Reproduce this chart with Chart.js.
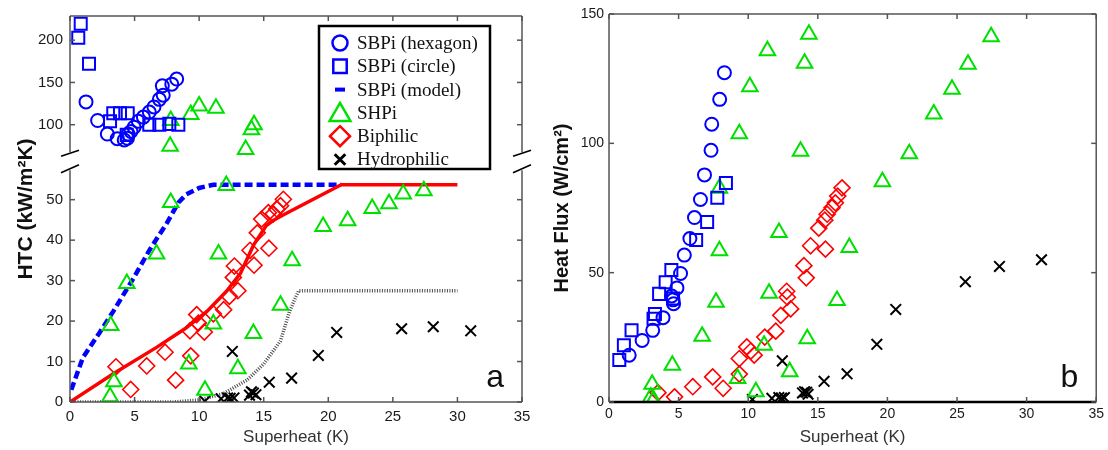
<!DOCTYPE html>
<html>
<head>
<meta charset="utf-8">
<script src="https://cdn.jsdelivr.net/npm/chart.js@4.4.0/dist/chart.umd.min.js"></script>
<style>
html, body { margin: 0; padding: 0; background: #fff; }
#wrap { position: relative; width: 1108px; height: 450px; }
#htc { position: absolute; left: 0; top: 0; }
#flux { position: absolute; left: 540px; top: 0; }
</style>
</head>
<body>
<div id="wrap">
  <canvas id="htc" width="540" height="450"></canvas>
  <canvas id="flux" width="568" height="450"></canvas>
</div>
<script>
// ---- tick labels ----
const xTicks = [0, 5, 10, 15, 20, 25, 30, 35];
const htcLowTicks = [0, 10, 20, 30, 40, 50];
const htcHighTicks = [100, 150, 200];
const fluxTicks = [0, 50, 100, 150];
const legendLabels = ['SBPi (hexagon)', 'SBPi (circle)', 'SBPi (model)', 'SHPi', 'Biphilic', 'Hydrophilic'];

// ---- panel a: HTC vs superheat [K, kW/m2K] ----
const hexHTC = [[1.24,127],[2.14,105],[2.89,89],[3.66,83.5],[4.2,82],[4.45,84],[4.5,89],[4.72,92],[4.96,97],[5.29,104],[5.68,109],[6.14,115],[6.5,121],[6.92,130],[7.22,135],[7.15,146],[7.88,148],[8.26,154]];
const circHTC = [[0.83,219.5],[0.64,203],[1.47,172],[3.1,104],[3.35,113.6],[3.87,113.6],[4.47,113.6],[4.39,88],[6.14,100],[6.92,100],[7.69,101],[8.39,100]];
const shpiHTCHigh = [[7.8,105],[7.75,74.5],[9.35,112],[10.0,122],[11.3,119.5],[13.6,70.6],[14.05,94],[14.25,100]];
const shpiHTCLow = [[3.1,1.3],[3.4,5],[3.15,18.9],[4.4,29.3],[6.7,36.6],[7.8,49.3],[9.2,9.4],[10.45,2.9],[11.1,19.3],[11.5,36.6],[12.1,53.5],[13.0,8.2],[14.2,16.9],[16.3,23.9],[17.2,34.9],[19.6,43.4],[21.5,44.8],[23.4,47.8],[24.7,49],[25.8,51.4],[27.4,52.2]];
const biphHTC = [[3.56,8.7],[4.7,3.1],[5.94,8.9],[7.36,12.3],[8.18,5.4],[9.29,17.6],[9.35,11.4],[9.81,21.6],[9.94,19.5],[10.4,17.3],[11.1,21.8],[11.9,22.8],[12.34,26.1],[12.65,30.8],[12.73,33.6],[13.0,27.5],[13.94,37.5],[14.25,33.8],[14.5,41.8],[14.84,45.2],[15.4,38],[15.36,46.8],[15.74,46.5],[16.0,47.7],[16.3,48.5],[16.52,50.1]];
const hydrHTC = [[10.45,0.2],[11.7,0.8],[12.2,1],[12.4,0.9],[12.7,1],[12.57,12.5],[13.9,1.7],[14.05,2.5],[14.2,2.2],[14.4,1.8],[15.43,4.9],[17.16,5.9],[19.23,11.5],[20.65,17.2],[25.68,18.1],[28.13,18.6],[31.03,17.6]];
const modelSBPi = [[0.1,3],[1,11],[2.3,17.2],[3.35,22.4],[4.9,30.5],[6.2,37.8],[7.5,44.2],[8.4,49.3],[9,51.3],[10,52.9],[11.1,53.7],[21,53.7]];
const modelBiph = [[0,0],[3.35,7],[6.7,13.5],[8.9,18.1],[10.6,22.4],[12.1,27.3],[13.2,31.8],[14.2,38.7],[15.2,43.6],[15.7,44.8],[16.5,46.2],[21,53.7],[30,53.7]];
const modelHydr = [[0,0],[8,0],[10,0.5],[11.9,2.1],[13.7,5.4],[15,9.4],[16.3,15.1],[17,22.4],[17.7,27.5],[30,27.5]];

// ---- panel b: heat flux vs superheat [K, W/cm2] ----
const hexFlux = [[1.45,18.1],[2.38,23.8],[3.14,27.7],[3.88,32.6],[4.5,41],[4.6,39.5],[4.64,38],[4.88,44.1],[5.14,49.7],[5.41,56.8],[5.81,63.2],[6.14,71.3],[6.57,78.3],[6.86,87.8],[7.33,97.3],[7.38,107.4],[7.95,117],[8.29,127.3]];
const circFlux = [[0.74,16.2],[1.07,21.9],[1.62,27.7],[3.2,32.2],[3.3,34],[3.6,41.8],[4.07,46.3],[4.48,51],[4.6,40],[6.26,62.6],[7.05,69.6],[7.78,79],[8.4,84.7]];
const shpiFlux = [[3.0,1.8],[3.2,0.8],[3.1,6.9],[4.55,14.2],[6.69,25.4],[7.69,38.6],[7.93,58.5],[7.93,82.6],[9.24,9.1],[9.36,103.7],[10.12,121.9],[10.55,4],[11.14,21.9],[11.38,135.8],[11.5,42],[12.21,65.5],[12.98,11.7],[13.76,96.9],[14.05,131],[14.24,24.5],[14.36,142.2],[16.38,39.2],[17.26,59.7],[19.64,85.1],[21.57,96],[23.33,111.3],[24.64,120.9],[25.79,130.6],[27.45,141.2]];
const biphFlux = [[3.52,3.6],[4.71,2],[6.02,5.9],[7.45,9.7],[8.2,5.3],[9.36,10.8],[9.36,16.8],[9.9,21.3],[10.19,19.7],[10.43,18.1],[11.19,25.1],[11.98,27.4],[12.34,33.5],[12.76,42.8],[12.81,40.5],[13.05,36],[14.0,52.7],[14.17,48],[14.48,60.4],[15.07,67.2],[15.5,70.3],[15.55,59.1],[15.67,72.6],[16.02,75.1],[16.26,77],[16.43,79.6],[16.74,82.8]];
const hydrFlux = [[10.3,1],[11.7,1.4],[12.2,1.7],[12.4,1.5],[12.6,1.7],[12.45,15.9],[13.9,3.5],[14.05,4],[14.2,3.8],[14.3,3],[15.45,8],[17.1,10.9],[19.24,22.3],[20.6,35.8],[25.6,46.5],[28.05,52.4],[31.07,55]];

Chart.defaults.font.family = "'Liberation Sans', Arial, Helvetica, sans-serif";
Chart.defaults.color = '#1a1a1a';

const BLUE = '#0000ff', GREEN = '#00e000', RED = '#ff0000', BLACK = '#000000', GRAY = '#4a4a4a';

const xy = a => a.map(([x, y]) => ({x, y}));
const setTicks = vals => s => { s.ticks = vals.map(v => ({value: v})); };

const marks = (data, style, color, r, bw, axis) => ({
  data: xy(data), yAxisID: axis, showLine: false,
  pointStyle: style, pointRadius: r, pointHoverRadius: r,
  pointBorderColor: color, pointBackgroundColor: 'rgba(0,0,0,0)', pointBorderWidth: bw
});
const curve = (data, color, w, dash) => ({
  data: xy(data), yAxisID: 'y', showLine: true, pointRadius: 0,
  borderColor: color, borderWidth: w, borderDash: dash, fill: false
});

const xAxis = (size, tickPad) => ({
  type: 'linear', min: 0, max: 35,
  afterBuildTicks: setTicks(xTicks),
  ticks: { font: { size }, padding: tickPad, maxRotation: 0 },
  grid: { display: false, drawTicks: false }, border: { display: false },
  title: { display: true, text: 'Superheat (K)', color: '#333', font: { size: 17 }, padding: { bottom: 2 } },
  afterFit: s => { s.height = 48; }
});

// frame, inward ticks, axis break, y title, panel letter, legend
const panelPlugin = {
  id: 'panel',
  afterDraw(chart, args, o) {
    const {ctx, chartArea: a, scales} = chart;
    const seg = (x1, y1, x2, y2) => { ctx.beginPath(); ctx.moveTo(x1, y1); ctx.lineTo(x2, y2); ctx.stroke(); };
    ctx.save();
    ctx.strokeStyle = '#555'; ctx.lineWidth = 1.5;
    seg(a.left, a.top, a.right, a.top);
    ctx.save(); ctx.strokeStyle = o.bottomColor; ctx.lineWidth = o.bottomWidth;
    seg(a.left, a.bottom, a.right, a.bottom);
    ctx.restore();
    const brk = o.breakAxis ? scales[o.breakAxis].top : null;
    [a.left, a.right].forEach(x => {
      if (brk === null) { seg(x, a.top, x, a.bottom); return; }
      seg(x, a.top, x, brk - 9); seg(x, brk + 9, x, a.bottom);
      ctx.save(); ctx.strokeStyle = '#000'; ctx.lineWidth = 1.5;
      seg(x - 9, brk - 5, x + 9, brk - 11);
      seg(x - 9, brk + 11.5, x + 9, brk + 3.5);
      ctx.restore();
    });
    const tl = 5;
    const xs = scales.x;
    xs.ticks.forEach(t => {
      const px = xs.getPixelForValue(t.value);
      seg(px, a.bottom, px, a.bottom - tl); seg(px, a.top, px, a.top + tl);
    });
    o.yAxes.forEach(id => {
      const s = scales[id];
      s.ticks.forEach(t => {
        const py = s.getPixelForValue(t.value);
        seg(a.left, py, a.left + tl, py); seg(a.right, py, a.right - tl, py);
      });
    });

    ctx.fillStyle = '#111';
    ctx.font = "32px 'Liberation Sans', Arial, sans-serif";
    ctx.textAlign = 'right'; ctx.textBaseline = 'alphabetic';
    ctx.fillText(o.letter, a.right - 18, a.bottom - 15);

    if (o.legend) {
      const lx = a.left + 249, ly = a.top + 10, lw = 171, lh = 143;
      ctx.save();
      ctx.strokeStyle = '#000'; ctx.lineWidth = 2.5;
      ctx.fillStyle = '#fff';
      ctx.fillRect(lx, ly, lw, lh); ctx.strokeRect(lx, ly, lw, lh);
      const styles = [
        ['circle', BLUE, 7.5, 2.5], ['rect', BLUE, 9.5, 2.5], ['line', BLUE, 5, 4],
        ['triangle', GREEN, 12, 2.5], ['rectRot', RED, 10, 2.5], ['crossRot', BLACK, 7.5, 3]
      ];
      legendLabels.forEach((lab, i) => {
        const cy = ly + 17 + i * 23.3;
        const [st, col, r, bw] = styles[i];
        ctx.strokeStyle = col; ctx.fillStyle = 'rgba(0,0,0,0)'; ctx.lineWidth = bw;
        Chart.helpers.drawPoint(ctx, { pointStyle: st, radius: r, borderWidth: bw, rotation: 0 }, lx + 21, st === 'triangle' ? cy + 2 : cy);
        ctx.fillStyle = '#111';
        ctx.font = "19px 'Liberation Serif', 'Times New Roman', serif";
        ctx.textAlign = 'left'; ctx.textBaseline = 'middle';
        ctx.fillText(lab, lx + 38, cy + 1);
      });
      ctx.restore();
    }

    ctx.translate(o.titleX, (a.top + a.bottom) / 2);
    ctx.rotate(-Math.PI / 2);
    ctx.fillStyle = '#111';
    ctx.font = "bold " + o.titleSize + "px 'Liberation Sans', Arial, sans-serif";
    ctx.textAlign = 'center'; ctx.textBaseline = 'middle';
    ctx.fillText(o.yTitle, 0, 0);
    ctx.restore();
  }
};

new Chart(document.getElementById('htc'), {
  type: 'scatter',
  data: {
    datasets: [
      marks(hexHTC, 'circle', BLUE, 6.5, 2, 'y2'),
      marks(circHTC, 'rect', BLUE, 8.5, 2, 'y2'),
      marks(shpiHTCHigh, 'triangle', GREEN, 9, 2, 'y2'),
      marks(shpiHTCLow, 'triangle', GREEN, 9, 2, 'y'),
      marks(biphHTC, 'rectRot', RED, 8, 1.6, 'y'),
      marks(hydrHTC, 'crossRot', BLACK, 7.5, 2, 'y'),
      curve(modelBiph, RED, 3.5, []),
      curve(modelSBPi, BLUE, 4.5, [8, 4]),
      curve(modelHydr, GRAY, 3.5, [1, 1.5])
    ]
  },
  options: {
    responsive: false, animation: false, devicePixelRatio: 1,
    layout: { padding: { left: 0, right: 18, top: 14, bottom: 0 } },
    plugins: {
      legend: { display: false }, tooltip: { enabled: false },
      panel: { letter: 'a', legend: true, breakAxis: 'y', yAxes: ['y', 'y2'], bottomColor: '#555', bottomWidth: 1.5,
               yTitle: 'HTC (kW/m²K)', titleX: 26, titleSize: 21 }
    },
    scales: {
      x: xAxis(15, 6),
      y: {
        type: 'linear', position: 'left', stack: 'htc', stackWeight: 242, min: 0, max: 59.5,
        afterBuildTicks: setTicks(htcLowTicks),
        ticks: { font: { size: 15 }, padding: 7 },
        grid: { display: false, drawTicks: false }, border: { display: false },
        afterFit: s => { s.width = 70; }
      },
      y2: {
        type: 'linear', position: 'left', stack: 'htc', stackWeight: 146, min: 56.8, max: 228.6,
        afterBuildTicks: setTicks(htcHighTicks),
        ticks: { font: { size: 15 }, padding: 7 },
        grid: { display: false, drawTicks: false }, border: { display: false },
        afterFit: s => { s.width = 70; }
      }
    }
  },
  plugins: [panelPlugin]
});

new Chart(document.getElementById('flux'), {
  type: 'scatter',
  data: {
    datasets: [
      marks(hexFlux, 'circle', BLUE, 6.5, 2, 'y'),
      marks(circFlux, 'rect', BLUE, 8.5, 2, 'y'),
      marks(shpiFlux, 'triangle', GREEN, 9, 2, 'y'),
      marks(biphFlux, 'rectRot', RED, 8, 1.6, 'y'),
      marks(hydrFlux, 'crossRot', BLACK, 7.5, 2, 'y')
    ]
  },
  options: {
    responsive: false, animation: false, devicePixelRatio: 1,
    layout: { padding: { left: 0, right: 9, top: 14, bottom: 0 } },
    plugins: {
      legend: { display: false }, tooltip: { enabled: false },
      panel: { letter: 'b', legend: false, breakAxis: null, yAxes: ['y'], bottomColor: '#000', bottomWidth: 2.5,
               yTitle: 'Heat Flux (W/cm²)', titleX: 22, titleSize: 20 }
    },
    scales: {
      x: xAxis(14, 4),
      y: {
        type: 'linear', position: 'left', min: 0, max: 150,
        afterBuildTicks: setTicks(fluxTicks),
        ticks: { font: { size: 14 }, padding: 5 },
        grid: { display: false, drawTicks: false }, border: { display: false },
        afterFit: s => { s.width = 69; }
      }
    }
  },
  plugins: [panelPlugin]
});
</script>
</body>
</html>
